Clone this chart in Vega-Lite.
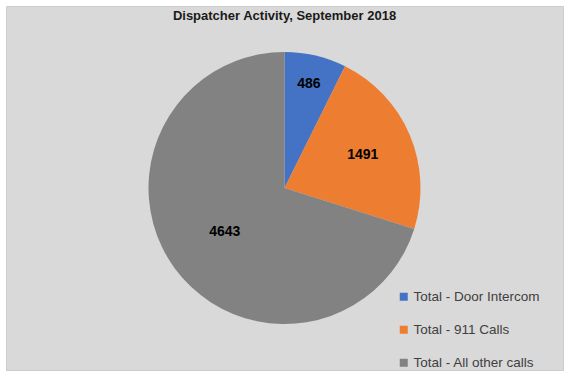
{
  "$schema": "https://vega.github.io/schema/vega-lite/v6.json",
  "width": 557,
  "height": 364,
  "autosize": {"type": "none"},
  "padding": {"left": 6, "top": 6, "right": 11, "bottom": 7},
  "background": "white",
  "view": {"fill": "#d9d9d9", "stroke": "#cccccc"},
  "title": {
    "text": "Dispatcher Activity, September 2018",
    "font": "Liberation Sans",
    "fontSize": 13,
    "fontWeight": "bold",
    "color": "#1a1a1a",
    "orient": "top",
    "frame": "group",
    "anchor": "middle",
    "offset": -27,
    "baseline": "alphabetic"
  },
  "data": {
    "values": [
      {"cat": "Total - Door Intercom", "value": 486, "k": 1},
      {"cat": "Total - 911 Calls", "value": 1491, "k": 2},
      {"cat": "Total - All other calls", "value": 4643, "k": 3}
    ]
  },
  "encoding": {
    "theta": {"field": "value", "type": "quantitative", "stack": true},
    "order": {"field": "k", "type": "quantitative"}
  },
  "layer": [
    {
      "mark": {"type": "arc", "outerRadius": 136},
      "encoding": {
        "color": {
          "field": "cat",
          "type": "nominal",
          "sort": null,
          "scale": {
            "domain": ["Total - Door Intercom", "Total - 911 Calls", "Total - All other calls"],
            "range": ["#4472c4", "#ed7d31", "#828282"]
          },
          "legend": {
            "orient": "none",
            "legendX": 391,
            "legendY": 284,
            "title": null,
            "symbolType": "square",
            "symbolSize": 64,
            "symbolStrokeWidth": 0,
            "labelFont": "Liberation Sans",
            "labelFontSize": 13.5,
            "labelColor": "#404040",
            "labelOffset": 3,
            "rowPadding": 18,
            "padding": 0
          }
        }
      }
    },
    {
      "mark": {
        "type": "text",
        "radius": {"expr": "datum.k == 1 ? 107 : datum.k == 2 ? 85 : 74"},
        "font": "Liberation Sans",
        "fontSize": 14,
        "fontWeight": "bold",
        "color": "black"
      },
      "encoding": {
        "text": {"field": "value", "type": "quantitative", "format": "d"}
      }
    }
  ]
}
